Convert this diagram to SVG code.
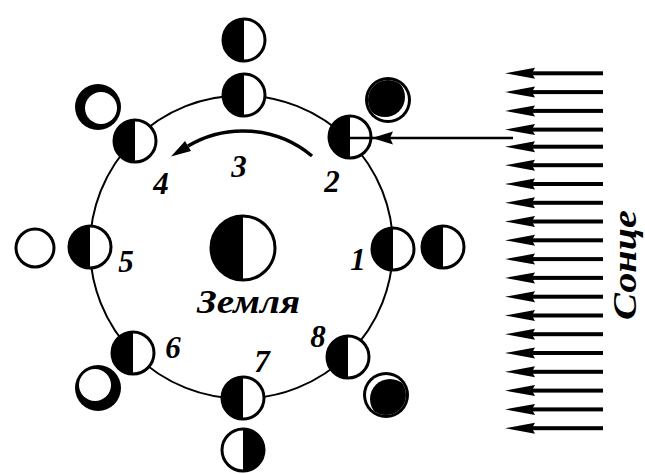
<svg xmlns="http://www.w3.org/2000/svg" xmlns:xlink="http://www.w3.org/1999/xlink" width="645" height="474" viewBox="0 0 645 474">
  <style>
    .orbit { fill: none; stroke: #000; stroke-width: 2; }
    .line { fill: none; stroke: #000; }
    .ink { fill: #000; }
    .paper { fill: #fff; }
    .rim { fill: #fff; stroke: #000; stroke-width: 3; }
    .num { font-family: "Liberation Serif", "Times New Roman", serif; font-style: italic; font-weight: bold; font-size: 31px; fill: #000; text-anchor: middle; }
    .name { font-family: "Liberation Serif", "Times New Roman", serif; font-style: italic; font-weight: bold; fill: #000; }
  </style>
  <defs>
    <!-- disc with dark left half and lit right half -->
    <g id="half">
      <circle r="21" class="rim"/>
      <path d="M0,-21 A21,21 0 0 0 0,21 Z" class="ink"/>
    </g>
    <!-- one sun ray pointing left -->
    <g id="ray">
      <path d="M0,0 L30,-5.5 L27,0 L30,5.5 Z" class="ink"/>
      <rect x="25" y="-2" width="73" height="4" class="ink"/>
    </g>
    <clipPath id="clip2"><circle cx="388" cy="100" r="20"/></clipPath>
    <clipPath id="clip8"><circle cx="386" cy="395" r="20"/></clipPath>
  </defs>

  <rect width="645" height="474" fill="#fff"/>

  <!-- connectors: orbit, direction of motion, ray to position 2 -->
  <g id="connectors">
    <circle class="orbit" cx="241.5" cy="247" r="151.5"/>
    <path class="line" stroke-width="3.5" d="M312,156 A108,108 0 0 0 188,146"/>
    <path class="ink" d="M171,156.5 L191,151 L185,141 Z"/>
    <line class="line" stroke-width="2.5" x1="352" y1="138" x2="513" y2="138"/>
    <path class="ink" d="M372,138 L393,131.5 L390,138 L393,144.5 Z"/>
  </g>

  <!-- Earth -->
  <g id="earth">
    <circle cx="243" cy="248" r="32" class="rim"/>
    <path d="M243,216 A32,32 0 0 0 243,280 Z" class="ink"/>
    <text class="name" x="197" y="313" font-size="33" textLength="103" lengthAdjust="spacingAndGlyphs">Земля</text>
  </g>

  <!-- Moon on the orbit -->
  <g id="moon-1"><use xlink:href="#half" x="393" y="249"/><text class="num" x="358" y="270">1</text></g>
  <g id="moon-2"><use xlink:href="#half" x="350" y="137"/><line class="line" stroke-width="2.5" x1="350" y1="138" x2="372" y2="138"/><text class="num" x="332" y="192">2</text></g>
  <g id="moon-3"><use xlink:href="#half" x="244" y="95"/><text class="num" x="239" y="177">3</text></g>
  <g id="moon-4"><use xlink:href="#half" x="135" y="141"/><text class="num" x="161" y="194">4</text></g>
  <g id="moon-5"><use xlink:href="#half" x="90" y="247"/><text class="num" x="126" y="272">5</text></g>
  <g id="moon-6"><use xlink:href="#half" x="133" y="353"/><text class="num" x="173" y="358">6</text></g>
  <g id="moon-7"><use xlink:href="#half" x="243" y="398"/><text class="num" x="262" y="372">7</text></g>
  <g id="moon-8"><use xlink:href="#half" x="348" y="357"/><text class="num" x="318" y="347">8</text></g>

  <!-- Moon as seen from Earth -->
  <g id="view-1"><use xlink:href="#half" x="443" y="247"/></g>
  <g id="view-2">
    <circle cx="388" cy="100" r="23" class="ink"/>
    <circle cx="388" cy="100" r="20" class="paper"/>
    <circle cx="385" cy="97" r="20" class="ink" clip-path="url(#clip2)"/>
  </g>
  <g id="view-3"><use xlink:href="#half" x="244" y="40"/></g>
  <g id="view-4">
    <circle cx="98" cy="107" r="23" class="ink"/>
    <circle cx="101" cy="108" r="16" class="paper"/>
  </g>
  <g id="view-5"><circle cx="35" cy="248" r="19" class="rim"/></g>
  <g id="view-6">
    <circle cx="98" cy="388" r="23" class="ink"/>
    <circle cx="95" cy="385" r="16" class="paper"/>
  </g>
  <g id="view-7"><use xlink:href="#half" transform="translate(243,450) scale(-1,1)"/></g>
  <g id="view-8">
    <circle cx="386" cy="395" r="23" class="ink"/>
    <circle cx="386" cy="395" r="20" class="paper"/>
    <circle cx="390" cy="399" r="20" class="ink" clip-path="url(#clip8)"/>
  </g>

  <!-- Sun rays -->
  <g id="sun">
    <use xlink:href="#ray" x="505" y="73.3"/>
    <use xlink:href="#ray" x="505" y="92.1"/>
    <use xlink:href="#ray" x="505" y="110.9"/>
    <use xlink:href="#ray" x="505" y="129.6"/>
    <use xlink:href="#ray" x="505" y="146.7"/>
    <use xlink:href="#ray" x="505" y="165.2"/>
    <use xlink:href="#ray" x="505" y="184"/>
    <use xlink:href="#ray" x="505" y="202.8"/>
    <use xlink:href="#ray" x="505" y="221.5"/>
    <use xlink:href="#ray" x="505" y="240.3"/>
    <use xlink:href="#ray" x="505" y="259.1"/>
    <use xlink:href="#ray" x="505" y="277.9"/>
    <use xlink:href="#ray" x="505" y="296.7"/>
    <use xlink:href="#ray" x="505" y="315.5"/>
    <use xlink:href="#ray" x="505" y="334.2"/>
    <use xlink:href="#ray" x="505" y="353"/>
    <use xlink:href="#ray" x="505" y="371.8"/>
    <use xlink:href="#ray" x="505" y="390.6"/>
    <use xlink:href="#ray" x="505" y="409.4"/>
    <use xlink:href="#ray" x="505" y="428.2"/>
    <text class="name" font-size="34" transform="translate(636,320) rotate(-90)" textLength="110" lengthAdjust="spacingAndGlyphs">Сонце</text>
  </g>
</svg>
